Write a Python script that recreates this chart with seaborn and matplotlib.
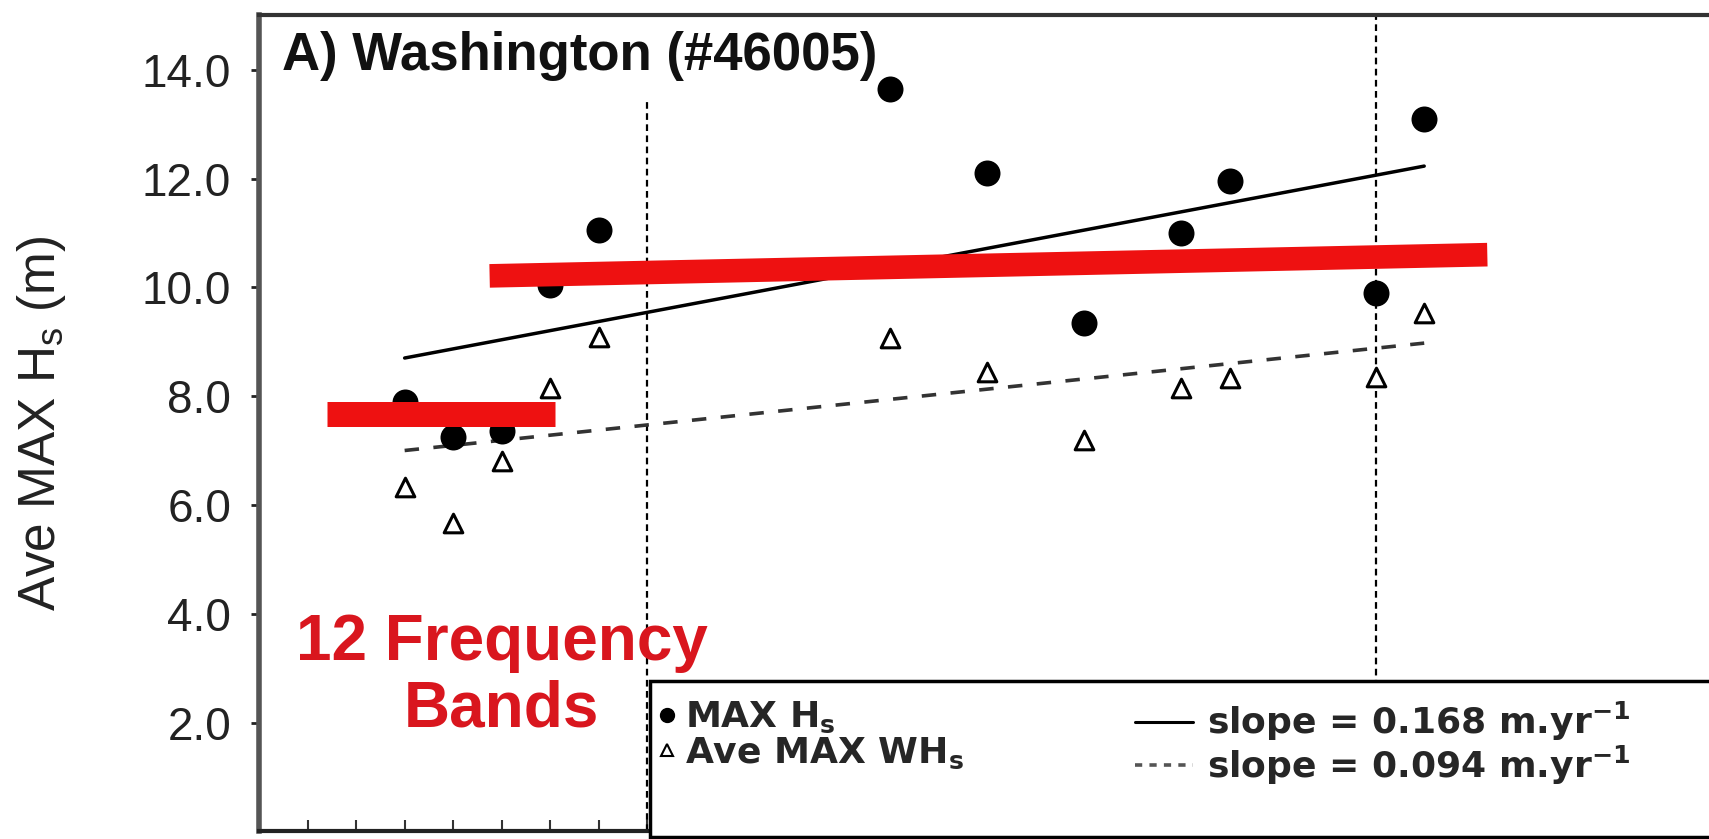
import numpy as np
import pandas as pd
import matplotlib.pyplot as plt
import seaborn as sns
from matplotlib.lines import Line2D
from matplotlib.patches import Rectangle
from matplotlib.ticker import FormatStrFormatter

# data
years = [1978, 1979, 1980, 1981, 1982, 1988, 1990, 1992, 1994, 1995, 1998, 1999]
max_hs = [7.9, 7.25, 7.35, 10.05, 11.05, 13.65, 12.1, 9.35, 11.0, 11.95, 9.9, 13.1]
ave_max_whs = [6.33, 5.66, 6.8, 8.14, 9.09, 9.06, 8.45, 7.2, 8.14, 8.33, 8.35, 9.52]

# linear trends (start value at first year, slope in m/yr)
trend_years = [1978, 1999]
hs_start, hs_slope = 8.7, 0.168
whs_start, whs_slope = 7.0, 0.094

# dashed event lines
event_years = [1983, 1998]
event_tops = [13.4, 15.0]

# red annotation bars ("12 Frequency Bands")
band1_x = [1976.4, 1981.1]
band1_y = [7.68, 7.68]
band2_x = [1979.75, 2000.3]
band2_y = [10.21, 10.6]

yticks = [2, 4, 6, 8, 10, 12, 14]

sns.set_theme(style='ticks')
plt.rcParams['font.family'] = ['Liberation Sans', 'DejaVu Sans']
plt.rcParams['mathtext.fontset'] = 'custom'
plt.rcParams['mathtext.rm'] = 'Liberation Sans'

fig = plt.figure(figsize=(17.09, 8.39), dpi=100)
ax = fig.add_axes([259 / 1709, 7.7 / 839, 1456.5 / 1709, 816 / 839])

df = pd.DataFrame({'year': years, 'max_hs': max_hs, 'ave_max_whs': ave_max_whs})
trend = pd.DataFrame({'year': trend_years})
trend['hs'] = [hs_start + hs_slope * (y - trend_years[0]) for y in trend_years]
trend['whs'] = [whs_start + whs_slope * (y - trend_years[0]) for y in trend_years]

ax.vlines(event_years, 0, event_tops, colors='black', linestyles=(0, (3, 2)), lw=1.6, zorder=1)

sns.lineplot(data=trend, x='year', y='hs', color='black', lw=2.5, ax=ax, zorder=2)
sns.lineplot(data=trend, x='year', y='whs', color='#333333', lw=2.6, ax=ax, zorder=2,
             linestyle=(0, (4, 4)))

sns.scatterplot(data=df, x='year', y='max_hs', marker='o', color='black', edgecolor='black',
                s=300, ax=ax, zorder=3)
sns.scatterplot(data=df, x='year', y='ave_max_whs', marker='^', facecolor='white',
                edgecolor='black', linewidth=2.2, s=180, ax=ax, zorder=3)

ax.plot(band1_x, band1_y, color='#ee1111', lw=18, solid_capstyle='butt', zorder=5)
ax.plot(band2_x, band2_y, color='#ee1111', lw=17, solid_capstyle='butt', zorder=5)

ax.text(1980, 3.15, '12 Frequency', color='#d9161e', fontsize=46, fontweight='bold',
        ha='center', va='baseline', zorder=6)
ax.text(1980, 1.92, 'Bands', color='#d9161e', fontsize=46, fontweight='bold',
        ha='center', va='baseline', zorder=6)

ax.text(0.0158, 0.933, 'A) Washington (#46005)', transform=ax.transAxes, fontsize=38,
        fontweight='bold', ha='left', va='baseline', color='#111111', zorder=6)

# legend box
ax.add_patch(Rectangle((1983.05, -0.1), 30, 2.87, facecolor='white', edgecolor='black',
                       lw=2.5, zorder=8, clip_on=False))
leg_prop = {'family': 'DejaVu Sans', 'size': 26, 'weight': 'bold'}
marker_handles = [
    Line2D([], [], marker='o', ls='none', color='black', markersize=10),
    Line2D([], [], marker='^', ls='none', mfc='white', mec='black', mew=1.5, markersize=8),
]
marker_labels = ['MAX H$_\\mathregular{s}$', 'Ave MAX WH$_\\mathregular{s}$']
line_handles = [
    Line2D([], [], color='black', lw=2.2),
    Line2D([], [], color='#555555', lw=2.6, ls=(0, (2, 2))),
]
line_labels = ['slope = 0.168 m.yr$^{\\mathregular{-1}}$',
               'slope = 0.094 m.yr$^{\\mathregular{-1}}$']

leg1 = ax.legend(marker_handles, marker_labels, loc='upper left', bbox_to_anchor=(1983.1, 2.41),
                 bbox_transform=ax.transData, frameon=False, prop=leg_prop, handlelength=0.8,
                 handletextpad=0.1, labelspacing=0.0, borderpad=0, borderaxespad=0)
leg1.set_zorder(20)
ax.add_artist(leg1)
leg2 = ax.legend(line_handles, line_labels, loc='upper left', bbox_to_anchor=(1993.04, 2.41),
                 bbox_transform=ax.transData, frameon=False, prop=leg_prop, handlelength=1.6,
                 handletextpad=0.4, labelspacing=0.0, borderpad=0, borderaxespad=0)
leg2.set_zorder(20)

ax.set_xlim(1975, 2005)
ax.set_ylim(0, 15)
ax.set_yticks(yticks)
ax.yaxis.set_major_formatter(FormatStrFormatter('%.1f'))
ax.set_xticks(range(1975, 2006))
ax.set_xticklabels([])
ax.tick_params(axis='y', direction='out', length=6, width=2, pad=14, labelsize=33,
               colors='#222222')
ax.tick_params(axis='x', direction='in', length=8, width=1.5, colors='#333333')
ax.set_xlabel('')
ax.set_ylabel('Ave MAX H$_\\mathregular{s}$ (m)', fontsize=37, color='#222222')
ax.yaxis.set_label_coords(-0.131, 0.5)

ax.spines['right'].set_visible(False)
ax.spines['left'].set_linewidth(4)
ax.spines['left'].set_color('#555555')
ax.spines['top'].set_linewidth(3)
ax.spines['top'].set_color('#333333')
ax.spines['bottom'].set_linewidth(3)
ax.spines['bottom'].set_color('#222222')

fig.savefig('out.png', dpi=100)
